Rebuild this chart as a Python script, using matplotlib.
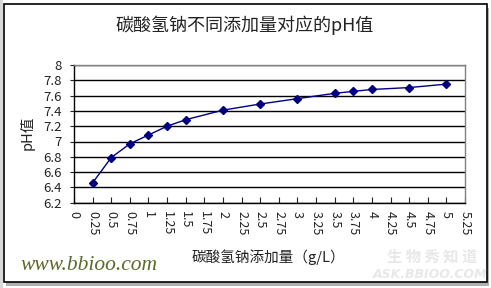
import matplotlib
matplotlib.use("Agg")
import matplotlib.pyplot as plt
from matplotlib.patches import Rectangle
import numpy as np

plt.rcParams['font.family'] = ['Noto Sans CJK SC', 'DejaVu Sans']

# Data
dose = [0.25, 0.5, 0.75, 1, 1.25, 1.5, 2, 2.5, 3, 3.5, 3.75, 4, 4.5, 5]
ph = [6.46, 6.79, 6.97, 7.085, 7.20, 7.285, 7.41, 7.49, 7.56, 7.63, 7.655, 7.68, 7.705, 7.75]
xticks = [0, 0.25, 0.5, 0.75, 1, 1.25, 1.5, 1.75, 2, 2.25, 2.5, 2.75, 3, 3.25,
          3.5, 3.75, 4, 4.25, 4.5, 4.75, 5, 5.25]
xtick_labels = ['0', '0.25', '0.5', '0.75', '1', '1.25', '1.5', '1.75', '2', '2.25',
                '2.5', '2.75', '3', '3.25', '3.5', '3.75', '4', '4.25', '4.5', '4.75',
                '5', '5.25']
yticks = [6.2, 6.4, 6.6, 6.8, 7, 7.2, 7.4, 7.6, 7.8, 8]
ytick_labels = ['6.2', '6.4', '6.6', '6.8', '7', '7.2', '7.4', '7.6', '7.8', '8']

title = '碳酸氢钠不同添加量对应的pH值'
xlabel = '碳酸氢钠添加量（g/L）'
ylabel = 'pH值'

W, H = 491, 288
fig = plt.figure(figsize=(W / 100, H / 100), dpi=100)
fig.patch.set_facecolor('white')

def fx(px):
    return px / W

def fy(py):
    return 1 - py / H

# Outer frame with shadow
fig.patches.append(Rectangle((fx(6), fy(286)), fx(483), (284 - 6) / H,
                             transform=fig.transFigure, facecolor='#b0b0b0',
                             edgecolor='none', zorder=0))
fig.patches.append(Rectangle((fx(0), fy(288)), fx(2.5), 1,
                             transform=fig.transFigure, facecolor='#d8d8d8',
                             edgecolor='none', zorder=0))
fig.patches.append(Rectangle((fx(4), fy(282)), fx(483), (282 - 4) / H,
                             transform=fig.transFigure, facecolor='white',
                             edgecolor='black', linewidth=1.2, zorder=1))

ax = fig.add_axes([fx(74), fy(202.7), fx(465 - 74), (202.7 - 65) / H])
ax.set_zorder(3)
ax.set_facecolor('white')

ax.plot(dose, ph, color='#000080', linewidth=1.0, marker='D', markersize=4,
        markerfacecolor='#000080', markeredgecolor='#000080', zorder=4)

ax.set_xlim(0, 5.25)
ax.set_ylim(6.2, 8)
ax.set_xticks(xticks)
ax.set_xticklabels(xtick_labels, rotation=270, fontsize=9, va='top', ha='center')
ax.set_yticks(yticks)
ax.set_yticklabels(ytick_labels, fontsize=9.5)
ax.tick_params(axis='x', direction='in', length=4, width=0.8, pad=6, colors='#222222')
ax.tick_params(axis='y', direction='out', length=3, width=0.8, pad=6, colors='#222222')
ax.yaxis.grid(True, color='black', linewidth=1.0)
ax.set_axisbelow(True)

for side in ['left', 'bottom']:
    ax.spines[side].set_color('black')
    ax.spines[side].set_linewidth(1.0)
for side in ['top', 'right']:
    ax.spines[side].set_color('#808080')
    ax.spines[side].set_linewidth(1.0)

fig.text(fx(245), fy(25), title, ha='center', va='center', fontsize=13, color='#222222', zorder=5)
fig.text(fx(268), fy(257), xlabel, ha='center', va='center', fontsize=10.5, color='#222222', zorder=5)
fig.text(fx(27), fy(133), ylabel, ha='center', va='center', rotation=90, fontsize=10.5,
         color='#222222', zorder=5)

# Watermarks
fig.text(fx(20), fy(266), 'www.bbioo.com', ha='left', va='center', fontsize=15.5,
         family=['Liberation Serif'], style='italic', color='#5b6b2a', zorder=5)
fig.text(fx(432), fy(257), '生 物 秀 知 道', ha='center', va='center', fontsize=11,
         color='#e8e8e8', fontweight='bold', zorder=5)
fig.text(fx(430), fy(275), 'ASK.BBIOO.COM', ha='center', va='center', fontsize=9,
         family=['DejaVu Sans'], style='italic', fontweight='bold', color='#e8e8e8', zorder=5)

fig.savefig('out.png', dpi=100)
